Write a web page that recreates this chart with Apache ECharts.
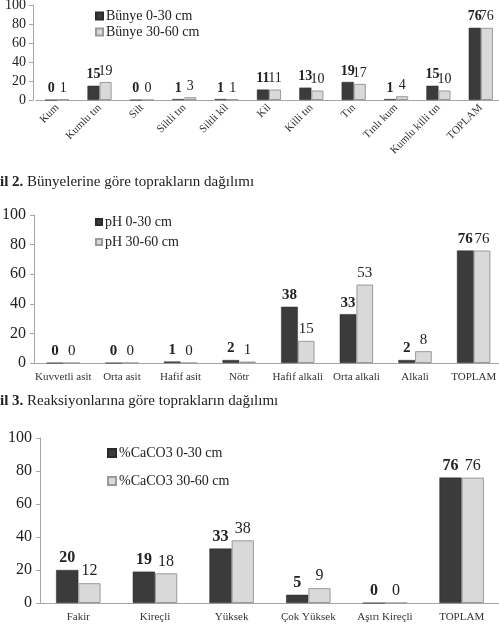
<!DOCTYPE html>
<html>
<head>
<meta charset="utf-8">
<script src="https://cdn.jsdelivr.net/npm/echarts@6/dist/echarts.min.js"></script>
<style>
  html, body { margin: 0; padding: 0; background: #fff; }
  #chart { width: 499px; height: 631px; }
</style>
</head>
<body>
<div id="chart"></div>
<script>
// Şekil 2 - bünye
const texCats = ['Kum', 'Kumlu tın', 'Silt', 'Siltli tın', 'Siltli kil', 'Kil', 'Killi tın', 'Tın', 'Tınlı kum', 'Kumlu killi tın', 'TOPLAM']
const tex0_30 = [0, 15, 0, 1, 1, 11, 13, 19, 1, 15, 76]
const tex30_60 = [1, 19, 0, 3, 1, 11, 10, 17, 4, 10, 76]

// Şekil 3 - reaksiyon
const phCats = ['Kuvvetli asit', 'Orta asit', 'Hafif asit', 'Nötr', 'Hafif alkali', 'Orta alkali', 'Alkali', 'TOPLAM']
const ph0_30 = [0, 0, 1, 2, 38, 33, 2, 76]
const ph30_60 = [0, 0, 0, 1, 15, 53, 8, 76]

// kireç
const limeCats = ['Fakir', 'Kireçli', 'Yüksek', 'Çok Yüksek', 'Aşırı Kireçli', 'TOPLAM']
const lime0_30 = [20, 19, 33, 5, 0, 76]
const lime30_60 = [12, 18, 38, 9, 0, 76]

const yTicks = { min: 0, max: 100, interval: 20 }

const serif = '"Liberation Serif", "DejaVu Serif", serif'
const DARK = '#3b3b3b'
const LIGHT = '#d9d9d9'
const AXIS = '#a6a6a6'

function yAxis(idx, fontSize, offset, margin) {
  return {
    type: 'value',
    gridIndex: idx,
    ...yTicks,
    offset,
    axisLine: { show: true, lineStyle: { color: AXIS } },
    axisTick: { show: true, length: 4, lineStyle: { color: AXIS } },
    splitLine: { show: false },
    axisLabel: { fontFamily: serif, fontSize, color: '#222', margin },
  }
}

function xAxis(idx, data, extra) {
  return {
    type: 'category',
    gridIndex: idx,
    data,
    axisLine: { lineStyle: { color: AXIS } },
    axisTick: { show: false },
    axisLabel: { fontFamily: serif, fontSize: 11, color: '#333', interval: 0, ...extra },
  }
}

function bars(name, data, idx, dark, fontSize, gap) {
  return {
    name,
    type: 'bar',
    xAxisIndex: idx,
    yAxisIndex: idx,
    data,
    barGap: '0%',
    barCategoryGap: gap,
    itemStyle: dark
      ? { color: DARK, borderColor: '#2a2a2a', borderWidth: 0.5 }
      : { color: LIGHT, borderColor: '#9a9a9a', borderWidth: 1 },
    label: {
      show: true,
      position: 'top',
      distance: 4,
      fontFamily: serif,
      fontSize,
      fontWeight: dark ? 'bold' : 'normal',
      color: '#222',
    },
  }
}

function legend(data, left, top, size, gap) {
  return {
    data,
    orient: 'vertical',
    left,
    top,
    padding: 0,
    icon: 'rect',
    itemWidth: size,
    itemHeight: size,
    itemGap: gap,
    textStyle: { fontFamily: serif, fontSize: 14, color: '#222', padding: [0, 0, 0, -2] },
  }
}

function caption(num, rest, top) {
  return {
    type: 'text',
    left: 0,
    top,
    style: {
      text: '{b|il ' + num + '.} ' + rest,
      fontFamily: serif,
      fontSize: 15,
      fill: '#222',
      rich: { b: { fontFamily: serif, fontSize: 15, fontWeight: 'bold', fill: '#222' } },
    },
  }
}

// sayfa soldan kesik: eksen adı "Adet" kenarın dışında kalıyor
function axisName(y) {
  return {
    type: 'text',
    x: -6,
    y,
    rotation: Math.PI / 2,
    style: {
      text: 'Adet',
      fontFamily: serif,
      fontSize: 14,
      fontWeight: 'bold',
      fill: '#222',
      align: 'center',
      verticalAlign: 'middle',
    },
  }
}

function buildOption() {
  return {
    backgroundColor: '#fff',
    animation: false,
    grid: [
      { left: 36, top: 5, width: 466, height: 95, outerBoundsMode: 'none' },
      { left: 34, top: 215, width: 469, height: 148, outerBoundsMode: 'none' },
      { left: 40, top: 438, width: 460, height: 165, outerBoundsMode: 'none' },
    ],
    xAxis: [
      xAxis(0, texCats, { rotate: 45, margin: 6 }),
      xAxis(1, phCats, { margin: 9 }),
      xAxis(2, limeCats, { margin: 9 }),
    ],
    yAxis: [yAxis(0, 14, 3, 7), yAxis(1, 16, 0, 8), yAxis(2, 16, 0, 8)],
    legend: [
      legend(['Bünye 0-30 cm', 'Bünye 30-60 cm'], 95, 9, 7, 2),
      legend(['pH 0-30 cm', 'pH 30-60 cm'], 95, 215, 6, 6),
      legend(['%CaCO3 0-30 cm', '%CaCO3 30-60 cm'], 107, 446, 8, 14),
    ],
    series: [
      bars('Bünye 0-30 cm', tex0_30, 0, true, 14, '43%'),
      bars('Bünye 30-60 cm', tex30_60, 0, false, 14, '43%'),
      bars('pH 0-30 cm', ph0_30, 1, true, 15, '43%'),
      bars('pH 30-60 cm', ph30_60, 1, false, 15, '43%'),
      bars('%CaCO3 0-30 cm', lime0_30, 2, true, 16, '42%'),
      bars('%CaCO3 30-60 cm', lime30_60, 2, false, 16, '42%'),
    ],
    graphic: [
      caption(2, 'Bünyelerine göre toprakların dağılımı', 175),
      caption(3, 'Reaksiyonlarına göre toprakların dağılımı', 394),
      axisName(52),
      axisName(282),
      axisName(518),
    ],
  }
}

const chart = echarts.init(document.getElementById('chart'))
chart.setOption(buildOption())
window.addEventListener('resize', () => chart.resize())
</script>
</body>
</html>
